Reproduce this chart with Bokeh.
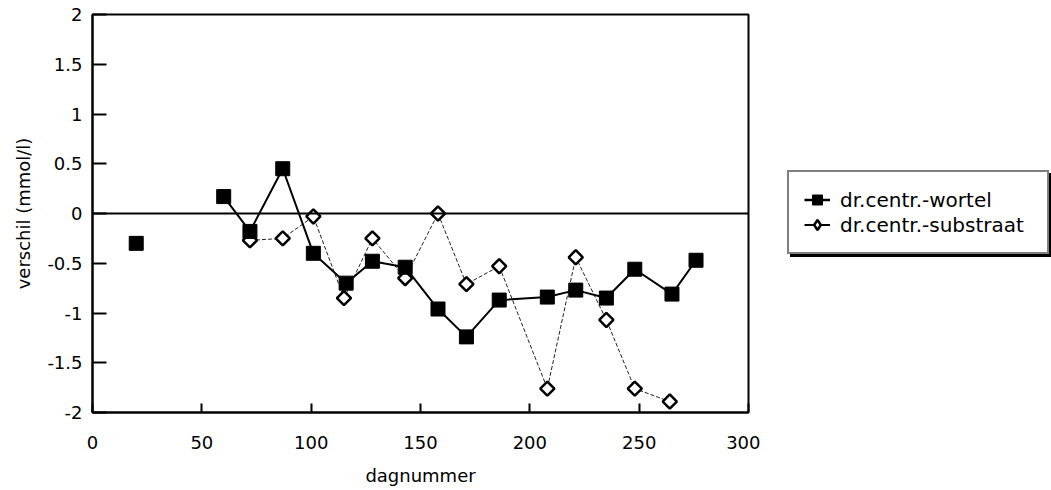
import math
from bokeh.plotting import figure
from bokeh.layouts import row
from bokeh.models import Span, Legend, LegendItem, FixedTicker, Range1d
from bokeh.embed import file_html
from bokeh.resources import INLINE

# daily difference series (mmol/l)
wortel_day = [20, 60, 72, 87, 101, 116, 128, 143, 158, 171, 186, 208, 221, 235, 248, 265, 276]
wortel_val = [-0.30, 0.17, -0.18, 0.45, -0.40, -0.70, -0.48, -0.54, -0.96, -1.24, -0.87,
              -0.84, -0.77, -0.85, -0.56, -0.81, -0.47]

substraat_day = [72, 87, 101, 115, 128, 143, 158, 171, 186, 208, 221, 235, 248, 264]
substraat_val = [-0.27, -0.25, -0.03, -0.85, -0.25, -0.65, 0.0, -0.71, -0.53, -1.76,
                 -0.44, -1.07, -1.76, -1.89]

series_labels = ["dr.centr.-wortel", "dr.centr.-substraat"]

x_ticks = [0, 50, 100, 150, 200, 250, 300]
y_ticks = [-2, -1.5, -1, -0.5, 0, 0.5, 1, 1.5, 2]

FONT = "DejaVu Sans"
MAIN_W = 760

p = figure(width=MAIN_W, height=490, output_backend="svg", toolbar_location=None,
           x_range=Range1d(0, 300), y_range=Range1d(-2, 2),
           min_border_left=92, min_border_right=MAIN_W - 748,
           min_border_top=14, min_border_bottom=78)
p.frame_width = 656
p.frame_height = 398
p.grid.visible = False
p.outline_line_color = "black"
p.outline_line_width = 2
p.background_fill_color = "white"
p.border_fill_color = "white"

for ax in (p.xaxis, p.yaxis):
    ax.axis_line_color = "black"
    ax.axis_line_width = 2
    ax.major_tick_line_color = "black"
    ax.major_tick_line_width = 2
    ax.major_tick_out = 0
    ax.minor_tick_line_color = None
    ax.major_label_text_font = FONT
    ax.major_label_text_font_size = "18px"
    ax.major_label_text_color = "black"
    ax.axis_label_text_font = FONT
    ax.axis_label_text_font_size = "18px"
    ax.axis_label_text_font_style = "normal"
    ax.axis_label_text_color = "black"

p.xaxis.ticker = FixedTicker(ticks=x_ticks)
p.yaxis.ticker = FixedTicker(ticks=y_ticks)
p.xaxis.major_label_overrides = {t: f"{t:g}" for t in x_ticks}
p.yaxis.major_label_overrides = {t: f"{t:g}" for t in y_ticks}
p.xaxis.major_tick_in = 9
p.yaxis.major_tick_in = 14
p.xaxis.major_label_standoff = 23
p.yaxis.major_label_standoff = 10
p.xaxis.axis_label = "dagnummer"
p.yaxis.axis_label = "verschil (mmol/l)"
p.xaxis.axis_label_standoff = 13
p.yaxis.axis_label_standoff = 10

# zero reference line
p.add_layout(Span(location=0, dimension="width", line_color="black", line_width=2))

LINE_W = dict(line_color="black", line_width=2)
LINE_S = dict(line_color="#222222", line_width=1, line_dash="4 2")
MARK_W = dict(marker="square", size=14, fill_color="black", line_color="black")
MARK_S = dict(marker="square", angle=math.pi / 4, size=10, fill_color="white",
              line_color="black", line_width=2.5)

# substrate series: thin broken line with open diamonds
p.line(substraat_day, substraat_val, **LINE_S)
p.scatter(substraat_day, substraat_val, **MARK_S)

# root series: solid line, first day stands alone
p.line(wortel_day[1:], wortel_val[1:], **LINE_W)
p.scatter(wortel_day, wortel_val, **MARK_W)

# side panel holding the legend
lf = figure(width=1051 - MAIN_W, height=490, output_backend="svg", toolbar_location=None,
            x_range=Range1d(0, 300), y_range=Range1d(-2, 2),
            min_border=0, x_axis_type=None, y_axis_type=None)
lf.grid.visible = False
lf.outline_line_color = None
lf.background_fill_color = "white"
lf.border_fill_color = "white"

# hidden copies of the series, used only for the legend swatches
lw_line = lf.line(wortel_day, wortel_val, visible=False, line_color="black", line_width=2.5)
lw_pts = lf.scatter(wortel_day, wortel_val, visible=False, marker="square",
                    fill_color="black", line_color="black", line_width=1)
ls_line = lf.line(substraat_day, substraat_val, visible=False,
                  line_color="black", line_width=2)
ls_pts = lf.scatter(substraat_day, substraat_val, visible=False, marker="diamond",
                    fill_color="white", line_color="black", line_width=2.5)


def make_legend(loc, shadow=False):
    labels = [" ", " "] if shadow else series_labels
    lg = Legend(items=[
        LegendItem(label=labels[0], renderers=[lw_line, lw_pts]),
        LegendItem(label=labels[1], renderers=[ls_line, ls_pts]),
    ], location=loc)
    lg.label_text_font = FONT
    lg.label_text_font_size = "20px"
    lg.label_text_color = "black"
    lg.border_line_color = "black"
    lg.border_line_width = 2
    lg.background_fill_color = "black" if shadow else "white"
    lg.background_fill_alpha = 1
    lg.glyph_width = 26
    lg.glyph_height = 25
    lg.label_width = 192
    lg.label_height = 23
    lg.label_standoff = 10
    lg.spacing = 0
    lg.padding = 15
    lg.margin = 0
    return lg


# drop shadow first, then the legend box itself
lf.add_layout(make_legend((30, 155), shadow=True), "center")
lf.add_layout(make_legend((27, 158)), "center")

layout = row(p, lf, spacing=0)
open("out.html", "w").write(file_html(layout, INLINE))
